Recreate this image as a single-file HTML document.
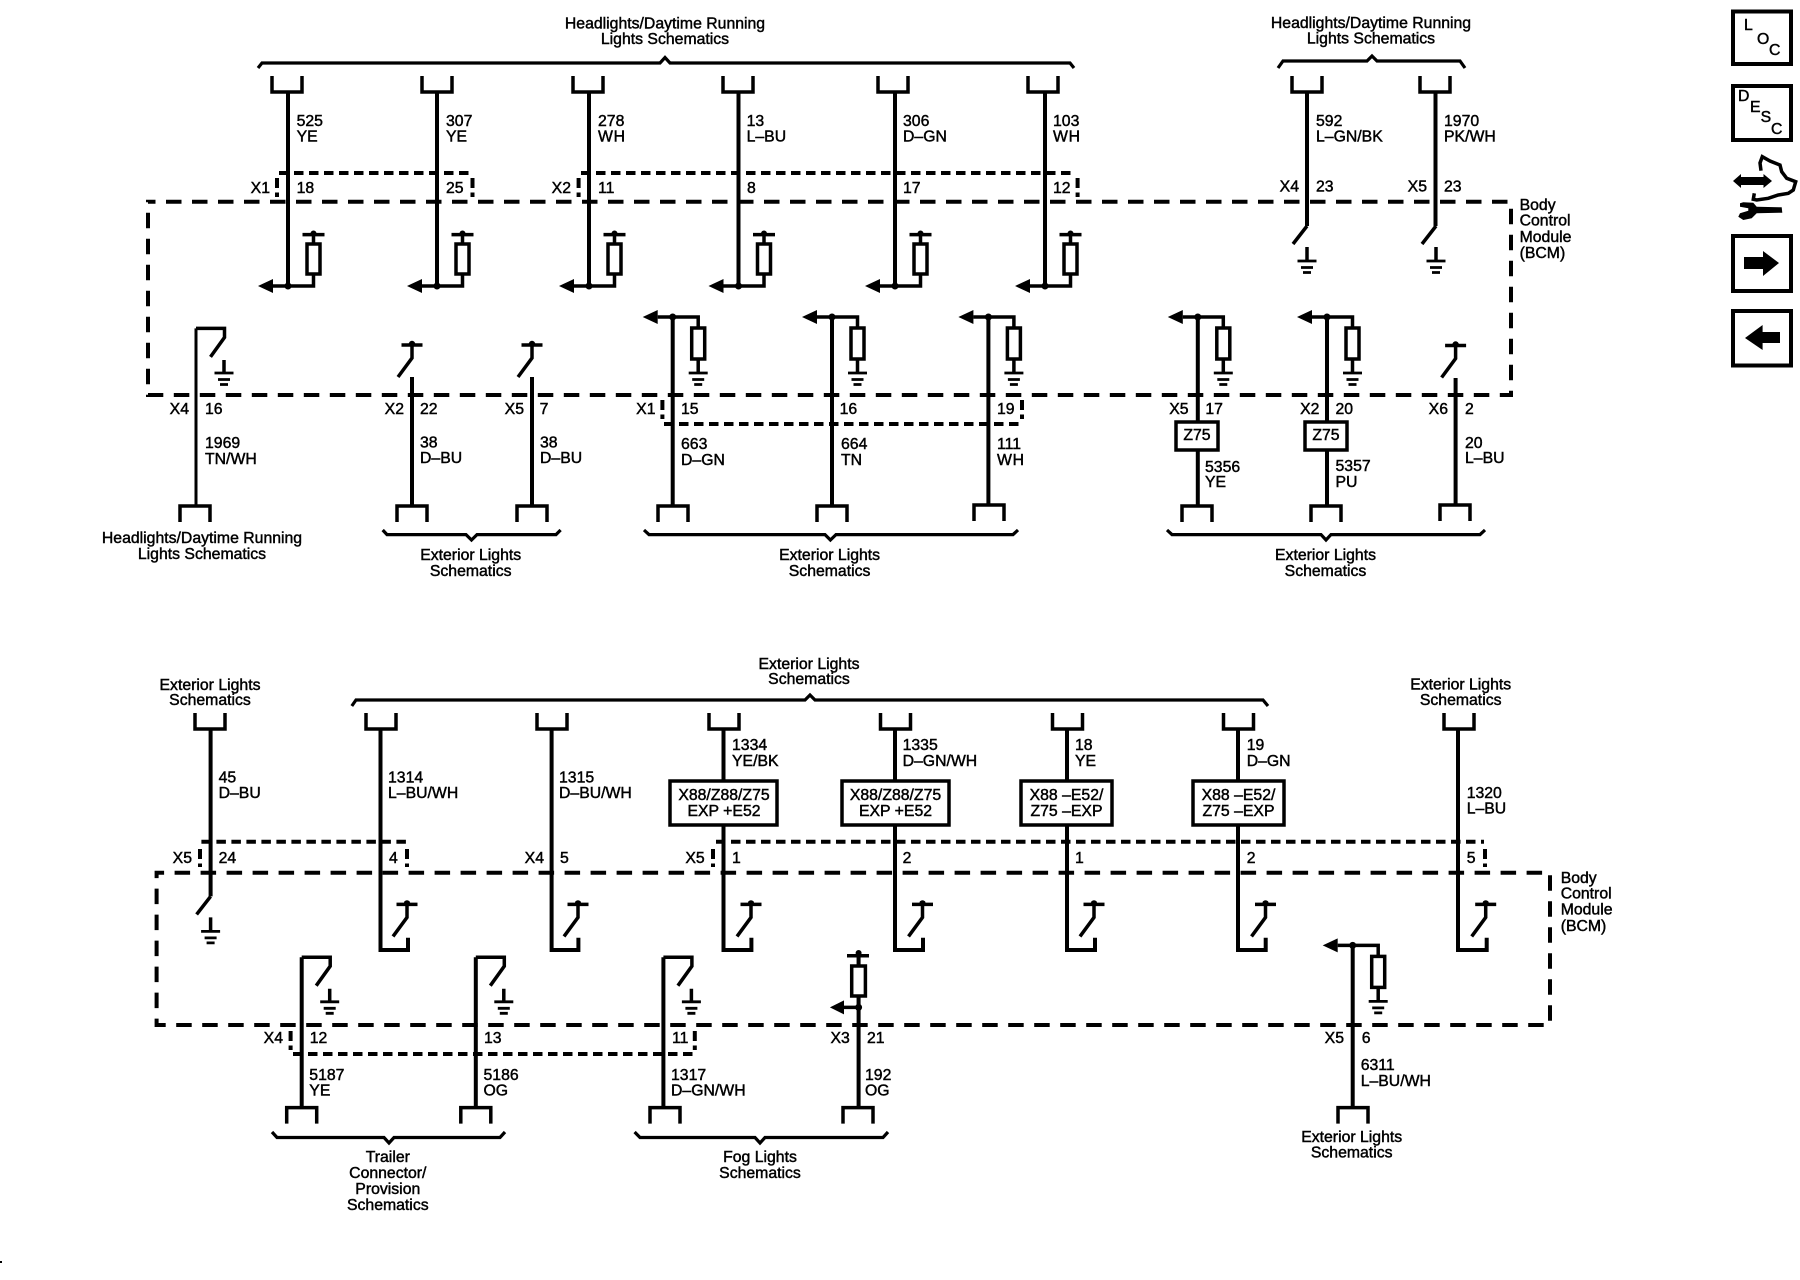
<!DOCTYPE html>
<html><head><meta charset="utf-8"><title>Body Control Module schematic</title>
<style>
html,body{margin:0;padding:0;background:#fff;width:1800px;height:1280px;overflow:hidden}
svg{display:block}
text{font-family:"Liberation Sans",sans-serif;font-size:15.8px;fill:#000;stroke:#000;stroke-width:.45px;transform:translateY(-.8px)}
.m{text-anchor:middle}.e{text-anchor:end}
.l{fill:none;stroke:#000;stroke-width:3.5}
.w{fill:none;stroke:#000;stroke-width:4}
.d{fill:none;stroke:#000;stroke-width:4;stroke-dasharray:15.5 10.5;stroke-dashoffset:8}
.s{fill:none;stroke:#000;stroke-width:4;stroke-dasharray:9.5 5.5}
.b{fill:#fff;stroke:#000;stroke-width:3.5}
.k{fill:none;stroke:#000;stroke-width:4}
</style></head><body>
<svg width="1800" height="1280" viewBox="0 0 1800 1280" xmlns="http://www.w3.org/2000/svg">
<defs>
<path id="uu" class="l" d="M-15,-16V0H15V-16"/>
<path id="ud" class="l" d="M-15,16V0H15V16"/>
<g id="g"><path d="M-9.5,0H9.5M-6,6.5H6M-4,11.5H4" fill="none" stroke="#000" stroke-width="2.8"/></g>
<g id="pu"><path d="M-30,0L-15,-7V7Z" fill="#000"/><circle r="3.5" fill="#000"/><path class="l" d="M-15,0H25.5V-12M25.5,-42V-51.4M14.5,-51.4H36.5"/><rect class="b" x="19" y="-42" width="13" height="30"/><circle cx="25.5" cy="-52.5" r="3" fill="#000"/></g>
<g id="pd"><path d="M-30,0L-15,-7V7Z" fill="#000"/><circle r="3.5" fill="#000"/><path class="l" d="M-15,0H25.5V11M25.5,42V56"/><rect class="b" x="19" y="11" width="13" height="31"/><use href="#g" x="25.5" y="56"/></g>
<g id="sw"><path class="l" d="M-10.5,0H10.5M0,0V13L-14,32"/><circle cy="-1" r="3.2" fill="#000"/></g>
<g id="st"><path class="l" d="M0,0H28.5V9L14.5,28.5M28,31.6V44.6"/><use href="#g" x="28" y="44.6"/></g>
<g id="sg"><path class="l" d="M0,0L-14,18M0,21V35"/><use href="#g" y="35"/></g>
</defs>
<rect width="1800" height="1280" fill="#fff"/>

<!-- TOP SECTION -->
<rect class="d" x="148" y="201.7" width="1363" height="193.3"/>
<path class="s" d="M279,173H471M581,173H1076M664,424H1021"/>
<path class="s" d="M277,178V197M472.5,178V197M578.6,178V197M1077.6,178V197M662.4,400V419M1022,400V419" style="stroke-dasharray:10 4.5"/>

<path class="k" style="stroke-width:3.2" d="M258,68L262,63H660L665,57.5L670,63H1070L1074,68"/>
<path class="k" style="stroke-width:3.2" d="M1278,68L1283,61H1367L1372,56L1377,61H1460L1465,68"/>
<text class="m" x="665" y="29.5">Headlights/Daytime Running</text><text class="m" x="665" y="45">Lights Schematics</text>
<text class="m" x="1371" y="28.7">Headlights/Daytime Running</text><text class="m" x="1371" y="44.4">Lights Schematics</text>

<!-- top row wires -->
<path class="w" d="M288,92V286M437,92V286M589,92V286M738.5,92V286M895,92V286M1045,92V286M1307,92V226M1435.5,92V226"/>
<use href="#uu" x="287" y="92"/><use href="#uu" x="437" y="92"/><use href="#uu" x="588" y="92"/><use href="#uu" x="738" y="92"/><use href="#uu" x="893" y="92"/><use href="#uu" x="1043" y="92"/><use href="#uu" x="1307" y="92"/><use href="#uu" x="1435" y="92"/>
<use href="#pu" x="288" y="286"/><use href="#pu" x="437" y="286"/><use href="#pu" x="589" y="286"/><use href="#pu" x="738.5" y="286"/><use href="#pu" x="895" y="286"/><use href="#pu" x="1045" y="286"/>
<use href="#sg" x="1307" y="226"/><use href="#sg" x="1436" y="226"/>

<text x="296.6" y="127">525</text><text x="296.6" y="142.4">YE</text>
<text x="446" y="127">307</text><text x="446" y="142.4">YE</text>
<text x="598" y="127">278</text><text x="598" y="142.4" textLength="27">WH</text>
<text x="746.6" y="127">13</text><text x="746.6" y="142.4">L–BU</text>
<text x="903" y="127">306</text><text x="903" y="142.4">D–GN</text>
<text x="1053" y="127">103</text><text x="1053" y="142.4" textLength="27">WH</text>
<text x="1316" y="127">592</text><text x="1316" y="142.4">L–GN/BK</text>
<text x="1444" y="127">1970</text><text x="1444" y="142.4">PK/WH</text>

<text class="e" x="270" y="194">X1</text><text x="296.6" y="194">18</text><text x="446" y="194">25</text>
<text class="e" x="571" y="194">X2</text><text x="598" y="194">11</text><text x="747" y="194">8</text><text x="903" y="194">17</text><text x="1053" y="194">12</text>
<text class="e" x="1299" y="192.5">X4</text><text x="1316" y="192.5">23</text>
<text class="e" x="1427" y="192.5">X5</text><text x="1444" y="192.5">23</text>
<text x="1519.6" y="211">Body</text><text x="1519.6" y="226.5">Control</text><text x="1519.6" y="243">Module</text><text x="1519.6" y="259">(BCM)</text>

<!-- second row -->
<path class="l" style="stroke-width:3" d="M196,328.4V506"/>
<use href="#st" x="196" y="328.4"/>
<use href="#ud" x="195" y="506"/>
<path class="w" d="M412,377V506M532,377V506M1455.6,378V505M672.7,317V506M832,317V506M988.4,317V505M1197.8,317V422M1197.8,450V506M1327,317V422M1327,450V506"/>
<use href="#sw" x="412" y="345"/><use href="#sw" x="532" y="345"/><use href="#sw" x="1455.6" y="345.5"/>
<use href="#ud" x="412" y="506"/><use href="#ud" x="532" y="506"/><use href="#ud" x="673" y="506"/><use href="#ud" x="832" y="506"/><use href="#ud" x="989" y="505"/><use href="#ud" x="1197" y="506"/><use href="#ud" x="1326" y="506"/><use href="#ud" x="1455" y="505"/>
<use href="#pd" x="672.7" y="317"/><use href="#pd" x="832" y="317"/><use href="#pd" x="988.4" y="317"/><use href="#pd" x="1197.8" y="317"/><use href="#pd" x="1327" y="317"/>
<rect class="b" x="1176" y="422" width="42" height="28"/><rect class="b" x="1305" y="422" width="42" height="28"/>
<text class="m" x="1197" y="441">Z75</text><text class="m" x="1326" y="441">Z75</text>

<text class="e" x="189" y="415">X4</text><text x="205" y="415">16</text>
<text x="205" y="449">1969</text><text x="205" y="465">TN/WH</text>
<text class="e" x="404" y="415">X2</text><text x="420" y="415">22</text><text x="420" y="448.5">38</text><text x="420" y="464">D–BU</text>
<text class="e" x="524" y="415">X5</text><text x="539.6" y="415">7</text><text x="540" y="448.5">38</text><text x="540" y="464">D–BU</text>
<text class="e" x="655.5" y="415">X1</text><text x="681" y="415">15</text><text x="681" y="449.7">663</text><text x="681" y="465.7">D–GN</text>
<text x="839.6" y="415">16</text><text x="841" y="449.7">664</text><text x="841" y="465.7">TN</text>
<text x="997" y="415">19</text><text x="997" y="449.7">111</text><text x="997" y="465.7" textLength="27">WH</text>
<text class="e" x="1188.6" y="415">X5</text><text x="1205.4" y="415">17</text><text x="1205" y="473">5356</text><text x="1205" y="488">YE</text>
<text class="e" x="1319.4" y="415">X2</text><text x="1335.5" y="415">20</text><text x="1335.5" y="472">5357</text><text x="1335.5" y="488">PU</text>
<text class="e" x="1448" y="415">X6</text><text x="1465" y="415">2</text><text x="1465" y="449">20</text><text x="1465" y="464">L–BU</text>

<path class="k" style="stroke-width:3.2" d="M382.7,530L387,534.6H466L471.5,540L477,534.6H556L560.6,530"/>
<path class="k" style="stroke-width:3.2" d="M644,530L649,534.6H825L830.4,540L836,534.6H1013L1018,530"/>
<path class="k" style="stroke-width:3.2" d="M1167,530L1172,534.6H1321L1326,540L1331,534.6H1480L1485,530"/>
<text class="m" x="202" y="544">Headlights/Daytime Running</text><text class="m" x="202" y="560">Lights Schematics</text>
<text class="m" x="470.7" y="561">Exterior Lights</text><text class="m" x="470.7" y="577">Schematics</text>
<text class="m" x="829.6" y="561">Exterior Lights</text><text class="m" x="829.6" y="577">Schematics</text>
<text class="m" x="1325.5" y="561">Exterior Lights</text><text class="m" x="1325.5" y="577">Schematics</text>

<!-- ICONS -->
<rect class="k" x="1733" y="11.5" width="58" height="52.5"/>
<rect class="k" x="1733" y="86" width="58" height="54"/>
<rect class="k" x="1733" y="236" width="58" height="55"/>
<rect class="k" x="1733" y="311" width="58" height="54.5"/>
<text x="1744" y="31">L</text><text x="1757" y="45">O</text><text x="1769" y="56">C</text>
<text x="1738" y="102">D</text><text x="1750" y="113">E</text><text x="1760.6" y="123">S</text><text x="1771" y="135">C</text>
<path d="M1744,257H1763V251L1779,263L1763,276V269H1744Z" fill="#000"/>
<path d="M1780,332H1762.6V325L1745,338L1762.6,350V343H1780Z" fill="#000"/>
<path d="M1733,181L1741,174V177H1763.5V174L1772,181L1763.5,188V185H1741V188Z" fill="#000"/>
<path d="M1761,170.7L1760,163L1762.3,156.7L1770,161L1780,165L1781.7,171.7L1786.7,178.3L1795.7,181.7L1793.3,190L1788.3,193.3L1778.3,195L1768.3,198.3L1756.7,200L1753.3,199.3L1754.3,193.3" fill="none" stroke="#000" stroke-width="3.5"/>
<path d="M1743.3,202.3L1753.3,202.7L1756.7,206.7L1781.7,207.3L1782.3,212.7L1756.7,213.3L1751.7,218.3L1743.3,220L1738.3,216.7L1740,213.3L1748.3,210.7L1748.3,208.3L1740,206.7L1740,203.3Z" fill="#000"/>

<!-- BOTTOM SECTION -->
<rect class="d" x="156.6" y="872.7" width="1393.4" height="152.3"/>
<path class="s" d="M201.4,841.7H406M716,841.7H1484M293,1054H693"/>
<path class="s" d="M200,849V867M407,849V867M713,849V867M1485,849V867M290.6,1031V1050M694.8,1031V1050" style="stroke-dasharray:10 4.5"/>

<path class="k" style="stroke-width:3.2" d="M351.8,706L356,700H805L810,695L815,700H1263L1268,706"/>
<text class="m" x="809" y="670">Exterior Lights</text><text class="m" x="809" y="685">Schematics</text>
<text class="m" x="210" y="691">Exterior Lights</text><text class="m" x="210" y="706">Schematics</text>
<text class="m" x="1460.7" y="690.5">Exterior Lights</text><text class="m" x="1460.7" y="706">Schematics</text>

<path class="w" d="M210.6,729V896.4M380.5,729V950H408V937.7M551.6,729V950H578.4V937.7M723.5,729V950H751.4V937.7M895,729V950H923V937.7M1067,729V950H1095V937.7M1238,729V950H1265.7V937.7M1458,729V950H1486.7V937.7"/>
<use href="#uu" x="210" y="729"/><use href="#uu" x="381" y="729"/><use href="#uu" x="552" y="729"/><use href="#uu" x="724" y="729"/><use href="#uu" x="895.5" y="729"/><use href="#uu" x="1067.5" y="729"/><use href="#uu" x="1238.5" y="729"/><use href="#uu" x="1459" y="729"/>
<use href="#sg" x="210.6" y="896.4"/>
<use href="#sw" x="407" y="904.4"/><use href="#sw" x="578" y="904.4"/><use href="#sw" x="751" y="904.4"/><use href="#sw" x="922.5" y="904.4"/><use href="#sw" x="1094" y="904.4"/><use href="#sw" x="1265.5" y="904.4"/><use href="#sw" x="1485.7" y="904.4"/>

<rect class="b" x="670" y="781" width="107" height="44"/><rect class="b" x="842" y="781" width="107" height="44"/><rect class="b" x="1021" y="781" width="91" height="44"/><rect class="b" x="1193" y="781" width="91" height="44"/>
<text class="m" x="724" y="800.7">X88/Z88/Z75</text><text class="m" x="724" y="817">EXP +E52</text>
<text class="m" x="895.5" y="800.7">X88/Z88/Z75</text><text class="m" x="895.5" y="817">EXP +E52</text>
<text class="m" x="1066.5" y="800.7">X88 –E52/</text><text class="m" x="1066.5" y="817">Z75 –EXP</text>
<text class="m" x="1238.5" y="800.7">X88 –E52/</text><text class="m" x="1238.5" y="817">Z75 –EXP</text>

<text x="218.6" y="783.5">45</text><text x="218.6" y="799">D–BU</text>
<text x="388" y="783.5">1314</text><text x="388" y="799">L–BU/WH</text>
<text x="559" y="783.5">1315</text><text x="559" y="799">D–BU/WH</text>
<text x="732" y="751">1334</text><text x="732" y="767">YE/BK</text>
<text x="902.6" y="751">1335</text><text x="902.6" y="767">D–GN/WH</text>
<text x="1075" y="751">18</text><text x="1075" y="767">YE</text>
<text x="1246.7" y="751">19</text><text x="1246.7" y="767">D–GN</text>
<text x="1466.7" y="799">1320</text><text x="1466.7" y="814.5">L–BU</text>

<text class="e" x="192" y="864">X5</text><text x="218.6" y="864">24</text><text x="389" y="864">4</text>
<text class="e" x="544" y="864">X4</text><text x="560" y="864">5</text>
<text class="e" x="704.7" y="864">X5</text><text x="732" y="864">1</text><text x="902.6" y="864">2</text><text x="1075" y="864">1</text><text x="1246.7" y="864">2</text><text x="1466.7" y="864">5</text>
<text x="1560.7" y="883.8">Body</text><text x="1560.7" y="899.5">Control</text><text x="1560.7" y="915.5">Module</text><text x="1560.7" y="931.6">(BCM)</text>

<!-- bottom row -->
<path class="w" d="M301.7,957.2V1107.6M475.8,957.2V1107.6M663.4,957.2V1107.6M858.6,955.7V1107.6M1352.7,945.4V1107.6"/>
<use href="#st" x="301.7" y="957.2"/><use href="#st" x="475.8" y="957.2"/><use href="#st" x="663.4" y="957.2"/>
<use href="#ud" x="301.7" y="1107.6"/><use href="#ud" x="475.8" y="1107.6"/><use href="#ud" x="665" y="1107.6"/><use href="#ud" x="858" y="1107.6"/><use href="#ud" x="1353" y="1107.6"/>
<path class="l" d="M847,955.7H869M858.6,955.7V1007.4H844"/>
<circle cx="858.6" cy="953" r="3" fill="#000"/><circle cx="858.6" cy="1007.4" r="3.5" fill="#000"/>
<path d="M829.9,1007.4L844,1000.4V1014.4Z" fill="#000"/>
<rect class="b" x="851.7" y="966" width="13.7" height="30"/>
<use href="#pd" x="1352.7" y="945.4" />

<text class="e" x="283" y="1043.7">X4</text><text x="309.7" y="1043.7">12</text><text x="484" y="1043.7">13</text><text x="672" y="1043.7">11</text>
<text class="e" x="849.8" y="1043.7">X3</text><text x="867" y="1043.7">21</text>
<text class="e" x="1344" y="1044">X5</text><text x="1361.7" y="1044">6</text>
<text x="309.3" y="1081">5187</text><text x="309.3" y="1096.5">YE</text>
<text x="483.5" y="1081">5186</text><text x="483.5" y="1096.5">OG</text>
<text x="671" y="1081">1317</text><text x="671" y="1096.5">D–GN/WH</text>
<text x="865" y="1081">192</text><text x="865" y="1096.5">OG</text>
<text x="1360.7" y="1071">6311</text><text x="1360.7" y="1086.6">L–BU/WH</text>

<path class="k" style="stroke-width:3.2" d="M272,1132L277,1137.5H384L389,1143L394,1137.5H500L505,1132"/>
<path class="k" style="stroke-width:3.2" d="M634.6,1132L640,1137.5H755L760,1143L765,1137.5H883L888,1132"/>
<text class="m" x="387.8" y="1163">Trailer</text><text class="m" x="387.8" y="1179">Connector/</text><text class="m" x="387.8" y="1195">Provision</text><text class="m" x="387.8" y="1211">Schematics</text>
<text class="m" x="760" y="1163">Fog Lights</text><text class="m" x="760" y="1179">Schematics</text>
<text class="m" x="1351.7" y="1143">Exterior Lights</text><text class="m" x="1351.7" y="1158.5">Schematics</text>
<rect x="0" y="1261" width="2" height="2" fill="#000"/>
</svg>
</body></html>
